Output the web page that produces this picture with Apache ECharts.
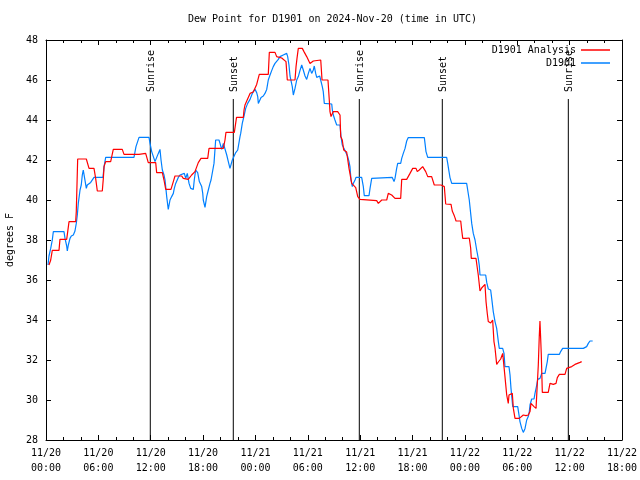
<!DOCTYPE html>
<html>
<head>
<meta charset="utf-8">
<script src="https://cdn.jsdelivr.net/npm/echarts@6/dist/echarts.min.js"></script>
<style>html,body{margin:0;padding:0;background:#fff}#c{width:640px;height:480px}</style>
</head>
<body>
<div id="c"></div>
<script>
// Hours since 2024-11-20 00:00 UTC, value in degrees F
const analysisSeries = [
[0.34,36.75],[0.54,37.0],[0.72,37.48],[1.49,37.48],[1.60,38.03],[2.37,38.03],[2.64,38.92],[3.40,38.92],[3.47,39.42],[3.63,42.05],
[4.62,42.05],[4.93,41.58],[5.50,41.58],[5.69,41.08],[5.88,40.45],[6.45,40.45],[6.57,41.08],[6.65,41.67],[6.84,41.92],[7.41,41.92],
[7.71,42.53],[8.74,42.53],[8.94,42.28],[10.66,42.28],[10.85,42.33],[11.42,42.33],[11.72,41.87],[12.57,41.87],[12.68,41.37],[13.33,41.37],
[13.52,41.0],[13.72,40.53],[14.32,40.53],[14.59,40.92],[14.78,41.2],[15.55,41.2],[15.73,41.08],[16.30,41.03],[16.69,41.25],[17.07,41.42],
[17.45,41.87],[17.76,42.08],[18.53,42.08],[18.68,42.58],[20.32,42.58],[20.51,43.0],[20.62,43.38],[21.58,43.38],[21.83,44.13],[22.61,44.13],
[22.69,44.5],[22.80,44.75],[23.00,44.95],[23.38,45.33],[23.57,45.33],[23.75,45.4],[23.95,45.5],[24.14,45.78],[24.33,45.85],[24.44,46.28],
[25.47,46.28],[25.59,47.38],[26.24,47.38],[26.43,47.17],[26.62,47.1],[27.01,47.1],[27.19,47.17],[27.50,46.92],[27.65,46.0],[28.53,46.0],
[28.65,46.67],[28.76,47.08],[28.91,47.58],[29.37,47.58],[29.56,47.42],[29.87,47.17],[30.06,47.0],[30.25,46.83],[30.63,46.95],[30.82,47.0],
[31.48,47.0],[31.63,46.0],[32.31,46.0],[32.46,45.0],[32.54,44.42],[32.66,44.17],[32.92,44.42],[33.42,44.42],[33.69,44.25],[33.77,43.17],
[33.95,43.0],[34.11,42.5],[34.45,42.4],[34.72,41.58],[35.03,40.83],[35.21,40.78],[35.49,40.62],[35.72,40.17],[35.98,40.03],[36.17,40.0],
[37.89,39.97],[38.08,39.83],[38.47,40.0],[39.04,40.0],[39.22,40.33],[39.61,40.25],[39.99,40.08],[40.64,40.08],[40.76,41.03],[41.33,41.03],
[41.71,41.33],[42.02,41.58],[42.40,41.58],[42.54,41.42],[42.77,41.5],[43.16,41.67],[43.31,41.62],[43.51,41.42],[43.74,41.17],[44.19,41.17],
[44.38,41.25],[44.49,40.75],[45.26,40.75],[45.41,40.83],[45.64,40.67],[45.80,39.8],[46.41,39.78],[46.55,39.45],[46.75,39.25],[46.86,39.12],
[46.98,38.95],[47.52,38.95],[47.63,38.5],[47.75,38.08],[48.12,38.08],[48.50,38.1],[48.66,37.6],[48.73,37.08],[49.27,37.08],[49.42,36.6],
[49.53,36.25],[49.65,36.25],[49.73,35.45],[49.92,35.6],[50.30,35.78],[50.42,34.92],[50.57,34.3],[50.68,33.92],[50.95,33.85],[51.18,34.0],
[51.33,32.92],[51.45,32.6],[51.64,31.78],[51.83,31.9],[52.10,32.05],[52.33,32.33],[52.48,32.33],[52.59,31.17],[52.79,30.25],[52.97,29.83],
[53.05,30.25],[53.17,30.33],[53.43,30.33],[53.55,29.58],[53.74,29.08],[54.23,29.08],[54.39,29.17],[54.69,29.25],[55.00,29.22],[55.26,29.25],
[55.46,29.42],[55.57,29.83],[55.77,29.78],[55.92,29.67],[56.15,29.58],[56.30,29.58],[56.41,31.75],[56.52,33.17],[56.60,33.95],[56.68,33.1],
[56.75,32.3],[56.87,30.38],[57.55,30.38],[57.75,30.83],[57.94,30.88],[58.13,30.78],[58.44,30.83],[58.59,31.12],[58.82,31.28],[59.47,31.28],
[59.66,31.58],[59.85,31.62],[60.24,31.67],[60.42,31.72],[60.61,31.78],[60.81,31.83],[61.19,31.88],[61.38,31.92]
];

const stationSeries = [
[0.23,36.75],[0.34,37.2],[0.54,37.58],[0.72,38.0],[0.84,38.42],[2.06,38.42],[2.18,38.08],[2.37,37.7],[2.44,37.45],[2.56,37.75],
[2.75,38.08],[2.90,38.2],[3.13,38.25],[3.32,38.45],[3.47,38.83],[3.59,39.25],[3.70,39.83],[3.90,40.5],[4.04,40.75],[4.16,41.25],
[4.27,41.5],[4.43,41.08],[4.62,40.58],[4.73,40.75],[4.93,40.83],[5.12,40.88],[5.31,40.95],[5.50,41.13],[6.53,41.13],[6.65,41.67],
[6.84,42.13],[10.08,42.13],[10.31,42.67],[10.66,43.13],[11.80,43.13],[11.92,42.83],[12.11,42.42],[12.49,41.92],[12.68,41.87],[12.87,42.33],
[13.06,42.53],[13.18,42.0],[13.33,41.5],[13.52,41.25],[13.64,41.0],[13.83,40.17],[14.01,39.53],[14.21,40.0],[14.40,40.17],[14.59,40.33],
[14.70,40.58],[14.86,40.83],[15.04,40.92],[15.16,41.13],[15.35,41.25],[15.55,41.3],[15.85,41.33],[16.01,41.08],[16.19,41.33],[16.39,40.83],
[16.58,40.58],[16.88,40.53],[16.99,41.0],[17.15,41.5],[17.38,41.37],[17.57,40.92],[17.84,40.67],[17.96,40.33],[18.02,40.0],[18.22,39.63],
[18.41,40.17],[18.60,40.5],[18.79,40.83],[18.91,41.0],[19.10,41.08],[19.25,41.83],[19.44,43.0],[19.82,43.0],[19.94,42.83],[20.13,42.53],
[20.32,42.83],[20.51,42.83],[20.71,42.25],[20.89,41.92],[21.08,41.58],[21.35,42.0],[21.54,42.08],[21.74,42.37],[21.97,42.5],[22.23,43.17],
[22.31,43.33],[22.49,43.83],[22.69,44.2],[22.88,44.58],[23.11,44.83],[23.38,45.03],[23.57,45.25],[23.75,45.42],[23.95,45.53],[24.14,45.37],
[24.26,45.17],[24.33,44.83],[24.44,44.75],[24.64,45.13],[24.90,45.2],[25.09,45.33],[25.29,45.53],[25.47,46.0],[25.67,46.25],[25.86,46.47],
[26.04,46.67],[26.24,46.83],[26.62,47.03],[26.81,47.17],[27.19,47.25],[27.39,47.3],[27.58,47.33],[27.69,47.17],[27.84,46.75],[27.96,46.2],
[28.07,46.25],[28.22,45.67],[28.34,45.25],[28.53,45.58],[28.73,46.0],[28.91,46.17],[29.10,46.47],[29.30,46.75],[29.48,46.5],[29.68,46.2],
[29.87,46.03],[30.06,46.33],[30.25,46.58],[30.44,46.33],[30.63,46.5],[30.74,46.7],[30.90,46.33],[31.02,46.13],[31.20,46.03],[31.36,46.2],
[31.51,46.13],[31.66,45.67],[31.77,45.42],[31.89,44.83],[32.74,44.8],[32.81,44.5],[32.92,44.25],[33.11,44.0],[33.31,43.75],[33.69,43.75],
[33.80,43.17],[33.95,42.75],[34.15,42.58],[34.34,42.5],[34.57,42.17],[34.72,41.92],[34.83,41.67],[34.95,41.0],[35.10,40.67],[35.21,40.83],
[35.41,41.0],[35.52,41.13],[36.17,41.13],[36.36,40.67],[36.47,40.22],[37.01,40.22],[37.13,40.58],[37.32,41.08],[37.39,41.13],[39.68,41.13],
[39.88,40.92],[39.99,41.08],[40.18,41.58],[40.30,41.83],[40.64,41.83],[40.76,42.08],[40.94,42.33],[41.14,42.58],[41.33,42.95],[41.51,43.12],
[43.35,43.12],[43.43,42.83],[43.54,42.42],[43.74,42.13],[45.91,42.13],[46.03,41.83],[46.18,41.42],[46.29,41.12],[46.49,40.83],[48.20,40.83],
[48.32,40.5],[48.50,40.0],[48.66,39.33],[48.78,38.83],[48.96,38.33],[49.16,38.0],[49.35,37.5],[49.53,37.08],[49.65,36.72],[49.73,36.25],
[50.38,36.25],[50.50,35.88],[50.68,35.55],[50.95,35.5],[51.07,35.08],[51.25,34.42],[51.45,33.92],[51.64,33.58],[51.83,32.92],[51.94,32.58],
[52.33,32.58],[52.48,32.33],[52.59,31.67],[53.05,31.67],[53.17,31.25],[53.28,30.58],[53.48,29.67],[54.05,29.67],[54.20,29.25],[54.31,28.92],
[54.51,28.58],[54.69,28.38],[54.89,28.58],[55.08,29.0],[55.26,29.17],[55.38,29.42],[55.46,29.75],[55.65,30.05],[55.92,30.05],[56.03,30.33],
[56.23,30.75],[56.34,31.03],[56.60,31.08],[56.80,31.33],[57.18,31.33],[57.29,31.58],[57.44,31.92],[57.55,32.28],[58.82,32.28],[58.97,32.42],
[59.20,32.58],[61.57,32.58],[61.95,32.67],[62.14,32.83],[62.33,32.95],[62.64,32.95]
];

const sunHours = [11.95, 21.46, 35.90, 45.41, 59.85];
const sunLabels = ['Sunrise', 'Sunset', 'Sunrise', 'Sunset', 'Sunrise'];
const sunLineTop = 45.05;

const xTickLabels = ['11/20\n00:00','11/20\n06:00','11/20\n12:00','11/20\n18:00',
  '11/21\n00:00','11/21\n06:00','11/21\n12:00','11/21\n18:00',
  '11/22\n00:00','11/22\n06:00','11/22\n12:00','11/22\n18:00'];
const seriesNames = ['D1901 Analysis', 'D1901'];
const titleText = 'Dew Point for D1901 on 2024-Nov-20 (time in UTC)';
const yName = 'degrees F';

const FONT = '"DejaVu Sans Mono", "Liberation Mono", monospace';
const chart = echarts.init(document.getElementById('c'), null, {renderer: 'canvas'});

const xBase = {
  type: 'value', min: 0, max: 66, interval: 6,
  axisLine: {show: true, onZero: false, lineStyle: {color: '#000', width: 1}},
  axisTick: {show: true, inside: true, length: 5, lineStyle: {color: '#000'}},
  minorTick: {show: true, splitNumber: 3, length: 3, lineStyle: {color: '#000'}},
  splitLine: {show: false}
};
const yBase = {
  type: 'value', min: 28, max: 48, interval: 2,
  axisLine: {show: true, onZero: false, lineStyle: {color: '#000', width: 1}},
  axisTick: {show: true, inside: true, length: 5, lineStyle: {color: '#000'}},
  splitLine: {show: false}
};

chart.setOption({
  animation: false,
  backgroundColor: '#fff',
  title: {
    text: titleText, left: 188, top: 14, padding: 0,
    textStyle: {fontFamily: FONT, fontSize: 10, fontWeight: 'normal', color: '#000'}
  },
  legend: {
    data: seriesNames, orient: 'vertical', align: 'right', right: 30, top: 44, padding: 0,
    icon: 'rect', itemWidth: 29, itemHeight: 1.5, itemGap: 1,
    textStyle: {fontFamily: FONT, fontSize: 10, color: '#000', lineHeight: 12}
  },
  grid: {left: 46, right: 18, top: 40, bottom: 40, containLabel: false, outerBoundsMode: 'none'},
  xAxis: [
    Object.assign({}, xBase, {
      position: 'bottom',
      axisLabel: {show: true, margin: 6, fontFamily: FONT, fontSize: 10, color: '#000', lineHeight: 15,
        hideOverlap: false, formatter: v => xTickLabels[Math.round(v / 6)] || ''}
    }),
    Object.assign({}, xBase, {position: 'top', axisLabel: {show: false}})
  ],
  yAxis: [
    Object.assign({}, yBase, {
      position: 'left',
      name: yName, nameLocation: 'middle', nameRotate: 90, nameGap: 31,
      nameTextStyle: {fontFamily: FONT, fontSize: 10, color: '#000'},
      axisLabel: {show: true, margin: 8, fontFamily: FONT, fontSize: 10, color: '#000'}
    }),
    Object.assign({}, yBase, {position: 'right', axisLabel: {show: false}})
  ],
  series: [
    {
      type: 'custom', name: 'sun', xAxisIndex: 0, yAxisIndex: 0, silent: true,
      data: sunHours.map(h => [h]),
      renderItem: function (params, api) {
        const h = api.value(0);
        const top = api.coord([h, sunLineTop]);
        const bot = api.coord([h, 28]);
        return {
          type: 'group',
          children: [
            {type: 'line', shape: {x1: top[0], y1: top[1], x2: bot[0], y2: bot[1]},
             style: {stroke: '#000', lineWidth: 1}},
            {type: 'text', x: top[0] + 1, y: top[1] - 7, rotation: Math.PI / 2,
             style: {text: sunLabels[params.dataIndex], fill: '#000', font: '10px ' + FONT,
                     align: 'left', verticalAlign: 'middle'}}
          ]
        };
      },
      z: 1
    },
    {
      name: seriesNames[0], type: 'line', data: analysisSeries, showSymbol: false,
      lineStyle: {color: '#ff0000', width: 1.2}, itemStyle: {color: '#ff0000'}, z: 3
    },
    {
      name: seriesNames[1], type: 'line', data: stationSeries, showSymbol: false,
      lineStyle: {color: '#0080ff', width: 1.2}, itemStyle: {color: '#0080ff'}, z: 2
    }
  ]
});
</script>
</body>
</html>
